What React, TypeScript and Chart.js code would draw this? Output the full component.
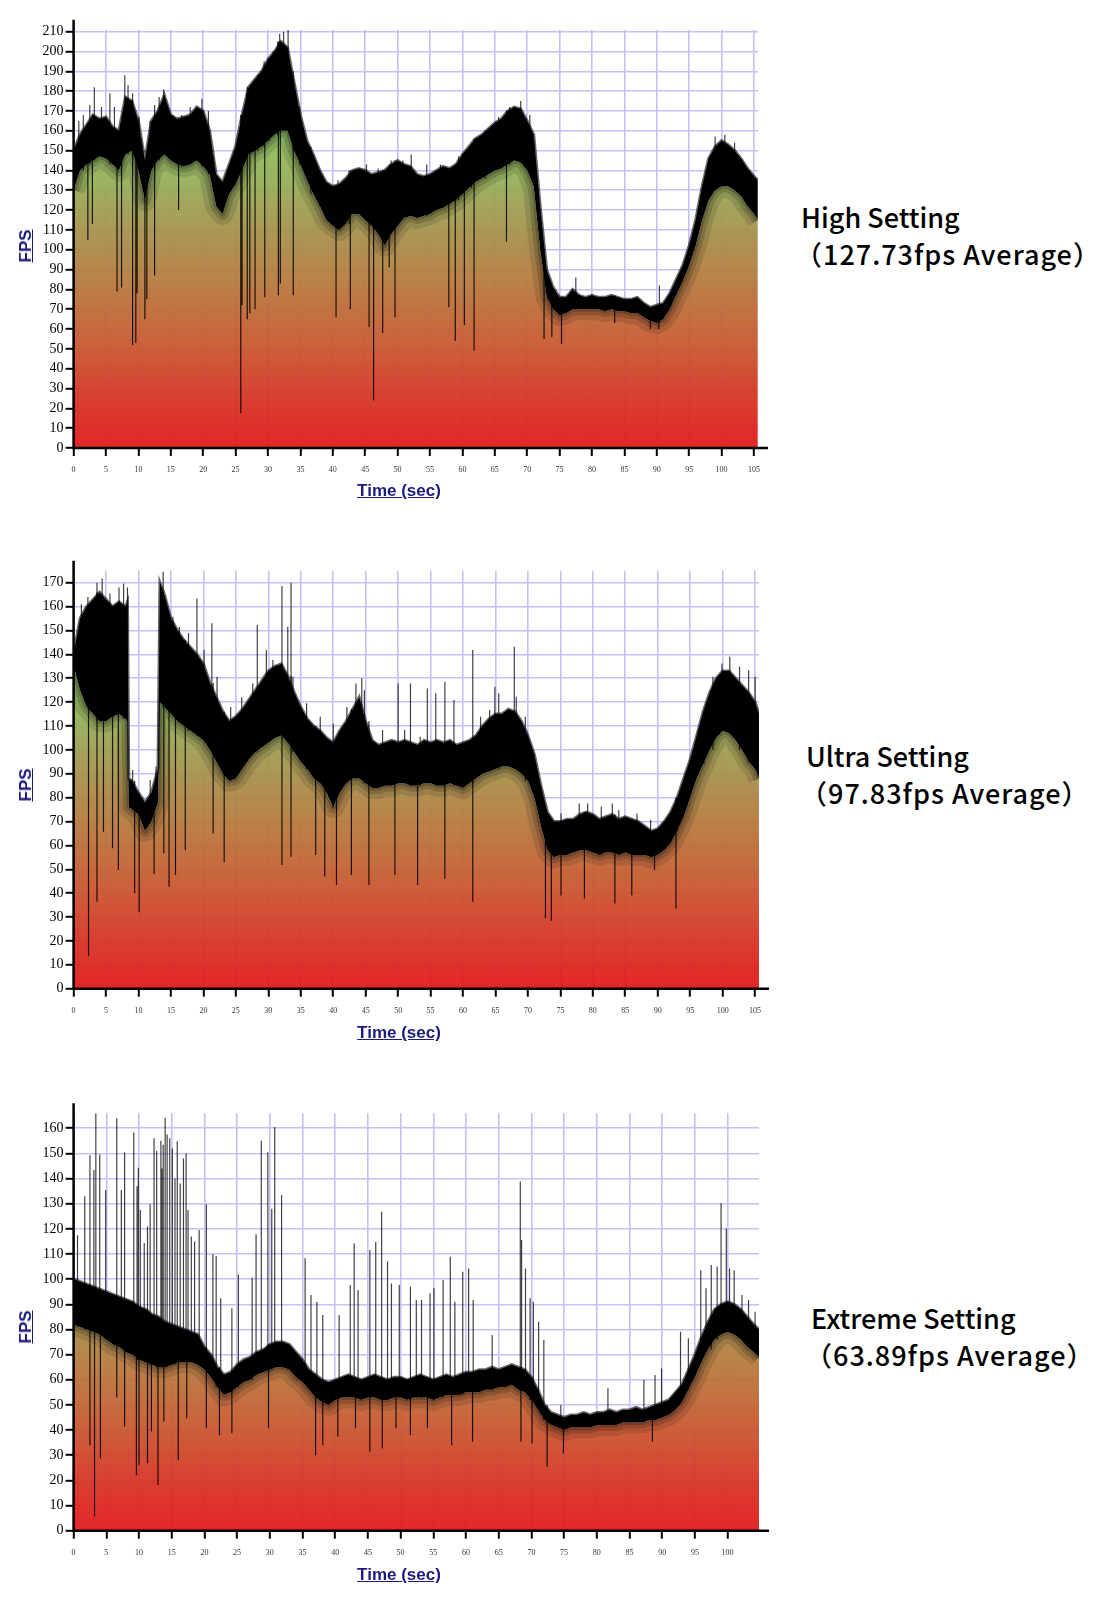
import React, { useEffect, useRef } from "react";
import { Chart, registerables } from "chart.js";
Chart.register(...registerables);

const range = (a: number, b: number) => Array.from({ length: b - a + 1 }, (_, i) => a + i);

// ---------- High setting ----------
const HIGH_TIME = [...range(0, 105), 105.6];
const HIGH_TOP = [
  150, 158, 163, 168, 166, 167, 162, 160, 177, 175,
  165, 145, 165, 170, 178, 168, 166, 167, 168, 172,
  170, 160, 138, 134, 143, 152, 168, 182, 186, 190,
  196, 200, 205, 202, 185, 168, 155, 148, 140, 134,
  132, 133, 136, 140, 141, 140, 138, 139, 140, 143,
  145, 143, 142, 138, 137, 138, 140, 142, 141, 143,
  148, 152, 156, 158, 161, 164, 166, 170, 172, 171,
  165, 158, 122, 90, 81, 76, 76, 80, 77, 76,
  77, 76, 76, 77, 76, 75, 75, 76, 73, 71,
  72, 73, 78, 85, 92, 102, 115, 132, 146, 152,
  155, 153, 150, 146, 141, 137, 135,
];
const HIGH_LOW = [
  130, 140, 143, 145, 147, 146, 143, 140, 148, 150,
  140, 125, 140, 145, 148, 145, 143, 142, 143, 145,
  142, 138, 122, 118, 128, 133, 140, 148, 150, 152,
  155, 158, 160, 160, 150, 143, 135, 128, 122, 115,
  112, 110, 113, 118, 118, 115, 112, 108, 102, 108,
  112, 116, 117, 116, 117, 118, 120, 121, 123, 125,
  128, 131, 134, 136, 138, 140, 141, 143, 145, 144,
  140, 132, 100, 76, 70, 67, 68, 70, 70, 70,
  70, 70, 69, 70, 69, 69, 68, 68, 66, 64,
  63, 65, 70, 77, 84, 92, 102, 115, 125, 130,
  132, 132, 130, 127, 122, 118, 115,
];
const HIGH_DIPS = [
  [2.2, 105], [2.9, 113], [6.7, 79], [7.4, 81], [9.1, 52], [9.6, 53], [9.8, 78], [11.0, 65], [11.3, 75],
  [12.5, 87], [16.2, 120], [25.8, 17.5], [26.0, 72], [26.8, 65], [27.2, 68], [28.0, 70], [29.5, 76],
  [31.6, 77], [31.9, 83], [33.9, 77], [40.5, 66], [42.7, 70], [45.6, 61], [46.3, 24], [47.7, 58],
  [48.7, 91], [49.6, 66], [57.9, 71], [58.9, 54], [60.3, 62], [61.8, 49], [66.8, 104], [72.6, 55],
  [73.8, 56], [75.3, 52.5], [83.5, 63], [89.0, 60], [90.3, 60],
];
const HIGH_PEAKS = [
  [0.8, 165], [1.5, 168], [2.5, 173], [3.2, 182], [4.3, 172], [5.6, 179], [6.3, 172], [7.9, 188], [8.4, 183],
  [9.1, 179], [10.1, 167], [11.8, 165], [12.5, 173], [13.2, 177], [13.9, 181], [15.3, 168], [16.7, 168],
  [18.0, 172], [19.8, 176], [20.8, 170], [26.7, 179], [27.7, 185], [28.4, 188], [29.4, 195], [30.2, 197],
  [30.8, 200], [31.5, 205], [31.8, 209], [32.4, 210], [33.1, 211], [33.9, 190], [34.9, 172], [36.6, 152],
  [38.0, 138], [40.8, 135], [42.5, 140], [44.2, 141], [45.2, 143], [47.0, 141], [49.0, 145], [50.8, 145],
  [52.1, 148], [54.5, 143], [56.6, 143], [59.4, 147], [61.4, 152], [63.5, 160], [65.6, 167], [67.3, 172],
  [69.0, 175], [70.4, 168], [77.5, 86], [90.4, 82], [99.0, 157], [100.5, 158], [102.0, 154],
];

// ---------- Ultra setting ----------
const ULTRA_TIME = [...range(0, 8), 8.3, 8.5, ...range(9, 13), 13.3, ...range(14, 105), 105.6];
const ULTRA_TOP = [
  140, 155, 160, 163, 166, 163, 160, 162, 160,
  162, 88,
  87, 82, 78, 82, 92,
  170,
  165, 155, 150, 146, 143, 140, 136, 128, 122, 116,
  112, 114, 117, 121, 125, 129, 133, 135, 136, 131,
  124, 118, 113, 110, 108, 105, 103, 108, 112, 117,
  122, 112, 104, 102, 103, 104, 103, 104, 103, 102,
  104, 103, 104, 103, 104, 102, 103, 104, 106, 110,
  113, 115, 115, 117, 116, 112, 106, 98, 85, 74,
  70, 70, 71, 71, 73, 74, 73, 71, 72, 73,
  71, 72, 71, 70, 68, 66, 67, 70, 74, 80,
  88, 96, 106, 116, 124, 130, 133, 133, 130, 127,
  124, 120,
  115,
];
const ULTRA_LOW = [
  135, 125, 118, 115, 112, 112, 114, 115, 113,
  112, 76,
  75, 73, 66, 70, 78,
  120,
  118, 115, 112, 110, 108, 106, 104, 100, 95, 90,
  87, 88, 92, 96, 99, 101, 103, 105, 106, 103,
  99, 95, 92, 88, 86, 82, 76, 82, 86, 88,
  88, 86, 84, 84, 85, 85, 86, 86, 85, 85,
  86, 86, 85, 85, 86, 85, 84, 86, 88, 90,
  91, 92, 93, 93, 92, 90, 87, 80, 68, 58,
  55, 56, 56, 57, 58, 58, 57, 56, 57, 57,
  56, 57, 56, 56, 56, 55, 56, 58, 61, 66,
  72, 80, 88, 94, 100, 105, 108, 107, 104, 100,
  95, 92,
  88,
];
const ULTRA_DIPS = [
  [2.3, 13.7], [3.6, 36.4], [4.6, 65.7], [6.0, 58.8], [6.9, 49.7], [9.4, 40], [10.1, 32], [12.4, 48],
  [13.9, 56.7], [14.7, 42.7], [15.7, 47.6], [17.2, 58], [21.5, 65], [23.2, 53], [32.1, 51.8], [33.5, 55.3],
  [37.3, 56], [38.7, 47], [40.5, 43.4], [42.8, 47.6], [45.5, 43.4], [49.5, 47.6], [53.0, 43.4], [57.2, 46],
  [61.5, 36.4], [72.7, 29.5], [73.6, 28.5], [75.1, 39], [78.7, 37.8], [83.4, 35.7], [86.0, 39], [89.5, 49.7],
  [92.8, 33.6],
];
const ULTRA_PEAKS = [
  [1.2, 161], [2.2, 164], [3.6, 170], [4.4, 171.8], [5.6, 165.5], [7.0, 168], [7.7, 169.7], [8.3, 168],
  [9.1, 91.6], [11.8, 87.4], [12.7, 93], [13.8, 174.6], [14.2, 160], [15.3, 155.8], [16.3, 151.6],
  [17.7, 148.8], [19.0, 163.4], [20.1, 141.8], [21.3, 153], [22.1, 130.6], [24.2, 118], [25.9, 122],
  [27.6, 127.8], [28.3, 152.3], [29.7, 141.8], [30.7, 137.6], [32.1, 168.6], [33.0, 151.6], [33.5, 170],
  [33.8, 130.6], [35.9, 119.5], [38.0, 113.9], [40.0, 111], [42.1, 118], [43.5, 127.8], [44.4, 130],
  [44.8, 125], [47.6, 108.3], [50.0, 127.8], [51.0, 108.3], [51.9, 127.8], [53.4, 105.5], [54.5, 125.7],
  [55.8, 123.7], [57.2, 128.5], [58.6, 120.9], [61.5, 141.8], [62.7, 113.9], [64.1, 116.7], [64.9, 126.4],
  [65.5, 123.7], [67.9, 143.2], [68.2, 122.3], [69.6, 113.9], [75.1, 73.4], [77.9, 77.6], [79.2, 77.6],
  [81.3, 76.2], [83.0, 77.6], [84.0, 74.8], [86.8, 73.4], [88.9, 70.6], [93.0, 80.4], [95.7, 94.3],
  [97.1, 109.7], [98.5, 130.6], [99.9, 136.2], [101.1, 139], [102.6, 134.8], [104.0, 133.4], [105.0, 130.6],
];

// ---------- Extreme setting ----------
const EXTREME_TIME = [...range(0, 104), 104.8];
const EXTREME_TOP = [
  100, 99, 98, 97, 96, 95, 94, 93, 92, 91,
  89, 88, 86, 85, 83, 82, 81, 80, 79, 78,
  73, 70, 65, 62, 63, 66, 68, 69, 71, 72,
  74, 75, 75, 74, 71, 68, 64, 62, 60, 59,
  60, 61, 62, 61, 60, 61, 62, 61, 60, 61,
  61, 60, 61, 62, 61, 60, 61, 62, 61, 62,
  63, 63, 64, 64, 65, 64, 65, 66, 65, 64,
  61, 56, 50, 47, 46, 45, 46, 46, 47, 46,
  47, 47, 48, 47, 48, 48, 49, 48, 49, 50,
  51, 52, 55, 58, 64, 70, 77, 83, 88, 90,
  91, 90, 88, 85, 82, 80,
];
const EXTREME_LOW = [
  82, 81, 80, 79, 78, 76, 74, 73, 71, 70,
  68, 67, 66, 65, 65, 66, 67, 67, 67, 66,
  64, 61, 57, 54, 55, 57, 59, 60, 62, 63,
  64, 65, 65, 64, 61, 59, 56, 53, 51, 50,
  52, 53, 53, 53, 52, 53, 53, 52, 52, 53,
  53, 52, 53, 53, 53, 52, 53, 54, 54, 54,
  55, 55, 55, 56, 56, 57, 57, 58, 56, 55,
  52, 48, 44, 42, 41, 40, 41, 41, 41, 41,
  42, 42, 42, 42, 43, 43, 43, 43, 44, 44,
  45, 46, 48, 51, 56, 61, 67, 72, 76, 78,
  79, 78, 76, 73, 71, 69,
];
const EXTREME_DIPS = [
  [2.5, 34], [3.2, 5.6], [4.1, 28.8], [6.6, 53], [7.8, 41.4], [9.6, 22], [10.0, 26], [11.3, 26.8],
  [11.9, 39.4], [12.9, 18.2], [13.8, 43.3], [16.0, 28], [17.3, 44.7], [20.3, 40.7], [22.3, 38], [24.2, 38.7],
  [29.8, 40.7], [37.0, 30], [38.1, 34], [40.4, 37.4], [43.1, 40.7], [45.3, 31.4], [47.2, 32.7], [49.3, 40.7],
  [51.5, 38], [54.1, 40.7], [57.8, 34], [61.0, 35.4], [68.4, 35.4], [70.1, 34.7], [72.4, 25.4], [74.9, 30.7],
  [88.5, 35.4],
];
const EXTREME_PEAKS = [
  [0.6, 117.5], [1.7, 133], [2.5, 149.3], [3.1, 143.4], [3.4, 166], [4.0, 149.6], [4.9, 135.5], [6.6, 164],
  [7.3, 135.5], [7.8, 150.4], [9.2, 158.3], [9.7, 137], [9.9, 144.3], [10.2, 127.5], [10.8, 114.4], [11.3, 121],
  [11.7, 129.8], [12.3, 156], [12.7, 151], [13.35, 155], [13.5, 144], [13.7, 153.5], [14.0, 164.2], [14.3, 157.5],
  [14.7, 156], [15.1, 152], [15.5, 140], [15.85, 154.8], [16.3, 138], [16.8, 148], [17.2, 150], [17.5, 127.5],
  [18.0, 117], [18.5, 115], [19.2, 119.6], [20.3, 129.8], [21.3, 109.9], [21.8, 109.2], [22.5, 92.4],
  [24.2, 88.4], [25.2, 101.9], [27.3, 100.6], [27.9, 117.9], [28.7, 155], [29.7, 150.5], [30.3, 128],
  [30.75, 160.5], [31.8, 133.5], [35.4, 108.3], [36.3, 93.7], [37.2, 91], [38.1, 85.8], [40.6, 85.8],
  [42.3, 97.7], [42.9, 114.2], [43.5, 95.7], [45.3, 111.6], [46.2, 114.9], [47.1, 126.8], [48.0, 107],
  [48.6, 98.3], [49.8, 97.7], [51.5, 97], [52.4, 91.7], [53.2, 91.7], [54.5, 94.4], [55.1, 96.4], [56.5, 99.7],
  [57.6, 108.9], [58.3, 91], [59.5, 103], [60.4, 104.3], [61.1, 91.7], [64.0, 77.8], [68.3, 138.8],
  [68.5, 115.6], [69.1, 104.3], [69.8, 92.4], [70.3, 91], [71.1, 83.1], [71.9, 75.8], [74.5, 50], [81.7, 56.6],
  [87.2, 59.9], [88.9, 61.9], [89.9, 64.5], [92.8, 79.1], [94.0, 76.5], [95.9, 103.6], [96.7, 96.4],
  [97.5, 105.6], [98.4, 105], [99.0, 130.2], [99.8, 120.2], [100.3, 104.3], [101.0, 103.6], [102.2, 93.7],
  [103.2, 91.7], [104.2, 87.1],
];

const SETTING_NAMES = ["High Setting", "Ultra Setting", "Extreme Setting"];
const AVERAGES = ["127.73", "97.83", "63.89"];
const X_MAX = [105.6, 105.6, 104.8];
const Y_MAX = [211, 175, 166];
const X_STEP = 5;
const Y_STEP = 10;

// ---------- layout / style ----------
const SERIF = "'Liberation Serif', 'DejaVu Serif', serif";
const SANS = "'Liberation Sans', Arial, sans-serif";
const NAVY = "#1b1b7e";
const GRID = "#c2c2f5";

const PANELS = [
  { time: HIGH_TIME, top: HIGH_TOP, low: HIGH_LOW, dips: HIGH_DIPS, peaks: HIGH_PEAKS,
    canvasTop: 0, canvasH: 520, pad: { left: 0, right: 22.1, top: 29.7, bottom: 32 },
    fpsY: 246, timeY: 491, labelX: 801, labelY: 203 },
  { time: ULTRA_TIME, top: ULTRA_TOP, low: ULTRA_LOW, dips: ULTRA_DIPS, peaks: ULTRA_PEAKS,
    canvasTop: 530, canvasH: 520, pad: { left: 0, right: 21, top: 40.8, bottom: 21.3 },
    fpsY: 785, timeY: 1033, labelX: 806, labelY: 742 },
  { time: EXTREME_TIME, top: EXTREME_TOP, low: EXTREME_LOW, dips: EXTREME_DIPS, peaks: EXTREME_PEAKS,
    canvasTop: 1070, canvasH: 530, pad: { left: 0, right: 21, top: 43.2, bottom: 29.3 },
    fpsY: 1327, timeY: 1575, labelX: 811, labelY: 1304 },
];

function nearest(times: number[], t: number) {
  let best = 0;
  for (let i = 1; i < times.length; i++) {
    if (Math.abs(times[i] - t) < Math.abs(times[best] - t)) best = i;
  }
  return best;
}

function gradientFill(ctx: any) {
  const chart = ctx.chart;
  const a = chart.chartArea;
  if (!a) return "rgba(0,0,0,0)";
  const g = chart.ctx.createLinearGradient(0, a.bottom, 0, a.top);
  g.addColorStop(0, "rgba(226,24,26,0.94)");
  g.addColorStop(0.12, "rgba(214,52,36,0.94)");
  g.addColorStop(0.25, "rgba(200,88,48,0.94)");
  g.addColorStop(0.4, "rgba(182,122,62,0.94)");
  g.addColorStop(0.52, "rgba(165,146,76,0.94)");
  g.addColorStop(0.64, "rgba(150,174,88,0.94)");
  g.addColorStop(0.75, "rgba(140,192,94,0.94)");
  g.addColorStop(1, "rgba(128,204,96,0.94)");
  return g;
}

// Soft dark zone just under the band, clipped to the filled area (the streaky region of the original).
const bandShadow = {
  id: "bandShadow",
  afterDatasetDraw(chart: any, args: any) {
    if (args.index !== 0) return;
    const pts = chart.getDatasetMeta(0).data;
    if (!pts || !pts.length) return;
    const { ctx, chartArea: a } = chart;
    ctx.save();
    ctx.beginPath();
    ctx.rect(a.left, a.top, a.right - a.left, a.bottom - a.top);
    ctx.clip();
    ctx.beginPath();
    ctx.moveTo(pts[0].x, pts[0].y);
    for (let i = 1; i < pts.length; i++) ctx.lineTo(pts[i].x, pts[i].y);
    ctx.lineTo(pts[pts.length - 1].x, a.bottom);
    ctx.lineTo(pts[0].x, a.bottom);
    ctx.closePath();
    ctx.clip();
    const stroke = (w: number, c: string) => {
      ctx.beginPath();
      ctx.moveTo(pts[0].x, pts[0].y);
      for (let i = 1; i < pts.length; i++) ctx.lineTo(pts[i].x, pts[i].y);
      ctx.lineWidth = w;
      ctx.strokeStyle = c;
      ctx.lineJoin = "round";
      ctx.stroke();
    };
    stroke(22, "rgba(0,0,0,0.12)");
    stroke(12, "rgba(0,0,0,0.16)");
    stroke(5, "rgba(0,0,0,0.2)");
    ctx.restore();
  },
};

const axisLines = {
  id: "axisLines",
  afterDraw(chart: any) {
    const { ctx, chartArea: a } = chart;
    ctx.save();
    ctx.strokeStyle = "#000";
    ctx.lineWidth = 2.5;
    ctx.beginPath();
    ctx.moveTo(a.left, a.top - 10);
    ctx.lineTo(a.left, a.bottom);
    ctx.lineTo(a.right + 10, a.bottom);
    ctx.stroke();
    ctx.restore();
  },
};

function FpsChart({ p, idx }: { p: any; idx: number }) {
  const ref = useRef<HTMLCanvasElement>(null);
  useEffect(() => {
    const at = (t: number) => nearest(p.time, t);
    const dipData = p.dips.flatMap(([t, v]: number[]) => [
      { x: t, y: p.top[at(t)] }, { x: t, y: v }, { x: t, y: null },
    ]);
    const peakData = p.peaks.flatMap(([t, v]: number[]) => [
      { x: t, y: p.low[at(t)] }, { x: t, y: v }, { x: t, y: null },
    ]);
    const chart = new Chart(ref.current as HTMLCanvasElement, {
      type: "line",
      data: {
        datasets: [
          { label: "floor", data: p.time.map((t: number, i: number) => ({ x: t, y: p.low[i] })),
            fill: "origin", backgroundColor: gradientFill, borderWidth: 0, pointRadius: 0, order: 3 },
          { label: "band", data: p.time.map((t: number, i: number) => ({ x: t, y: p.top[i] })),
            fill: "-1", backgroundColor: "#000", borderColor: "rgba(0,0,0,0.6)", borderWidth: 3, pointRadius: 0, order: 2 },
          { label: "dips", data: dipData, fill: false, borderColor: "rgba(0,0,0,0.85)", borderWidth: 1.2,
            pointRadius: 0, spanGaps: false, order: 1 },
          { label: "peaks", data: peakData, fill: false, borderColor: "rgba(0,0,0,0.75)", borderWidth: 1.2,
            pointRadius: 0, spanGaps: false, order: 0 },
        ],
      } as any,
      options: {
        animation: false,
        responsive: false,
        events: [],
        layout: { padding: p.pad },
        elements: { line: { tension: 0 } },
        plugins: { legend: { display: false }, tooltip: { enabled: false } },
        scales: {
          x: {
            type: "linear", min: 0, max: X_MAX[idx],
            afterFit: (s: any) => { s.height = 40; },
            ticks: { stepSize: X_STEP, includeBounds: false, autoSkip: false, maxRotation: 0, padding: 9,
              color: "#333", font: { family: SERIF, size: 8 } },
            grid: { color: GRID, lineWidth: 1.6, tickColor: "#000", tickWidth: 2, tickLength: 8 },
            border: { display: false },
          },
          y: {
            type: "linear", min: 0, max: Y_MAX[idx],
            afterFit: (s: any) => { s.width = 73.6; },
            ticks: { stepSize: Y_STEP, includeBounds: false, autoSkip: false, padding: 2,
              color: "#000", font: { family: SERIF, size: 14 } },
            grid: { color: GRID, lineWidth: 1.6, tickColor: "#000", tickWidth: 2, tickLength: 8 },
            border: { display: false },
          },
        },
      } as any,
      plugins: [bandShadow, axisLines],
    });
    return () => chart.destroy();
  }, []);
  return (
    <canvas ref={ref} width={780} height={p.canvasH}
      style={{ position: "absolute", left: 0, top: p.canvasTop, width: 780, height: p.canvasH }} />
  );
}

const titleStyle: React.CSSProperties = {
  position: "absolute", fontFamily: SANS, fontWeight: 700, fontSize: 17, color: NAVY,
  textDecoration: "underline", whiteSpace: "nowrap", lineHeight: "20px",
};
const labelStyle: React.CSSProperties = {
  position: "absolute", fontFamily: "'Noto Sans CJK JP', 'Noto Sans', sans-serif", fontWeight: 500,
  fontSize: 27, lineHeight: "27px", color: "#000", whiteSpace: "nowrap",
};

export default function App() {
  return (
    <div style={{ position: "absolute", left: 0, top: 0, width: 1100, height: 1600, background: "#fff", overflow: "hidden" }}>
      {PANELS.map((p, i) => (
        <React.Fragment key={i}>
          <FpsChart p={p} idx={i} />
          <div style={{ ...titleStyle, left: 26, top: p.fpsY, transform: "translate(-50%,-50%) rotate(-90deg)" }}>FPS</div>
          <div style={{ ...titleStyle, left: 399, top: p.timeY, transform: "translate(-50%,-50%)" }}>Time (sec)</div>
          <div style={{ ...labelStyle, left: p.labelX, top: p.labelY }}>{SETTING_NAMES[i]}</div>
          <div style={{ ...labelStyle, left: p.labelX - 6, top: p.labelY + 37, letterSpacing: "1px" }}>（{AVERAGES[i]}fps Average）</div>
        </React.Fragment>
      ))}
    </div>
  );
}
